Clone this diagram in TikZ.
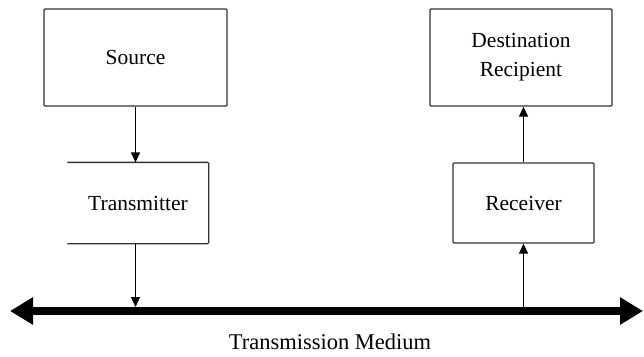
\documentclass[tikz,border=0pt]{standalone}
\usepackage{fontspec}
\setmainfont{Liberation Serif}
\usetikzlibrary{arrows.meta,positioning,calc}

\begin{document}
\begin{tikzpicture}[
    x=1pt, y=-1pt,
    block/.style={rectangle, draw=black!80, line width=1.3pt, rounded corners=1pt, align=center, font=\fontsize{21.5}{29}\selectfont},
    signal/.style={-{Triangle[length=10pt,width=9pt]}, line width=1.3pt},
    medium/.style={{Triangle[length=23pt,width=26pt]}-{Triangle[length=23pt,width=26pt]}, line width=8pt}
]
\useasboundingbox (0,0) rectangle (644,356);

\node[block, minimum width=183pt, minimum height=97pt] (source) at (135.5,57.5) {Source};
\node[block, draw=none, minimum width=140pt, minimum height=80pt] (transmitter) at (138,203) {Transmitter};
\node[block, minimum width=182pt, minimum height=97pt] (destination) at (521,57.5) {Destination\\Recipient};
\node[block, minimum width=141pt, minimum height=80pt] (receiver) at (523.5,203) {Receiver};

% transmitter box has no left side
\draw[draw=black!80, line width=1.3pt, rounded corners=1pt] (transmitter.north west) -- (transmitter.north east) -- (transmitter.south east) -- (transmitter.south west);

\coordinate (left) at (10,311);
\coordinate (right) at (643,311);
\draw[medium] (left) -- (right);
\node[font=\fontsize{22.5}{27}\selectfont, inner sep=1pt] (label) at (330,342) {Transmission Medium};

\draw[signal] (source.south) -- (source |- transmitter.north);
\draw[signal] (source |- transmitter.south) -- ($(source |- left)+(0,-4)$);
\draw[signal] ($(receiver |- right)+(0,-4)$) -- (receiver.south);
\draw[signal] (receiver.north) -- (receiver |- destination.south);

\end{tikzpicture}
\end{document}
